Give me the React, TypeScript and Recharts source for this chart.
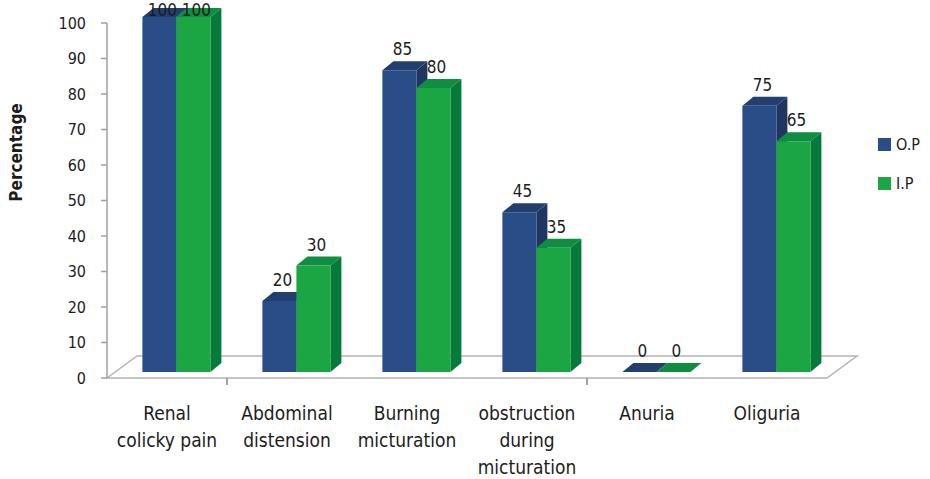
import { BarChart, Bar, XAxis, YAxis, Legend, LabelList, usePlotArea } from 'recharts';

// symptom categories ('\n' marks a line break in the axis label)
const categories = [
  'Renal\ncolicky pain',
  'Abdominal\ndistension',
  'Burning\nmicturation',
  'obstruction\nduring\nmicturation',
  'Anuria',
  'Oliguria',
];
const opValues = [100, 20, 85, 45, 0, 75];
const ipValues = [100, 30, 80, 35, 0, 65];
const yTicks = [0, 10, 20, 30, 40, 50, 60, 70, 80, 90, 100];
const seriesNames = ['O.P', 'I.P'];

const data = categories.map((name, i) => ({ name, op: opValues[i], ip: ipValues[i] }));

const FONT = "'Liberation Sans Narrow', 'DejaVu Sans Condensed', sans-serif";
const TEXT = '#1c1c1c';

// fake 3d depth of each bar, and how far the bars sit back from the floor edge
const DX = 11;
const DY = 9;
const SHIFT_X = 9;
const LIFT = 6;

// floor depth
const FLOOR_DX = 30;
const FLOOR_DY = 22;

const blue = { front: '#294d86', side: '#1f3660', top: '#223f6f' };
const green = { front: '#1ca643', side: '#047a3b', top: '#0f8d40' };

const makeBar3D = (c: { front: string; side: string; top: string }) => (props: any) => {
  const { x, y, width, height } = props;
  const x0 = x + SHIFT_X;
  const y0 = y - LIFT;
  const x1 = x0 + width;
  const y1 = y0 + height;
  return (
    <g>
      <polygon
        points={`${x1},${y0} ${x1 + DX},${y0 - DY} ${x1 + DX},${y1 - DY} ${x1},${y1}`}
        fill={c.side}
      />
      <polygon
        points={`${x0},${y0} ${x0 + DX},${y0 - DY} ${x1 + DX},${y0 - DY} ${x1},${y0}`}
        fill={c.top}
      />
      <rect x={x0} y={y0} width={width} height={height} fill={c.front} />
    </g>
  );
};

const ValueLabel = (props: any) => {
  const { x, y, width, value } = props;
  // keep the tallest labels inside the top edge
  const baseline = Math.max(y - LIFT - DY - 6, 16);
  return (
    <text
      x={x + SHIFT_X + width / 2 + 3}
      y={baseline}
      textAnchor="middle"
      fontFamily={FONT}
      fontSize={17}
      fill={TEXT}
    >
      {value}
    </text>
  );
};

const CategoryTick = ({ x, y, payload }: any) => {
  const lines = String(payload.value).split('\n');
  return (
    <text x={x} y={y + 40} textAnchor="middle" fontFamily={FONT} fontSize={19} fill={TEXT}>
      {lines.map((line, i) => (
        <tspan key={i} x={x} dy={i === 0 ? 0 : 27}>
          {line}
        </tspan>
      ))}
    </text>
  );
};

// floor plane under the bars
const Floor = () => {
  const plot = usePlotArea();
  if (!plot) return null;
  const { x, y, width, height } = plot;
  const b = y + height;
  const band = width / categories.length;
  const stroke = '#b4b4b4';
  return (
    <g>
      <polygon
        points={`${x},${b} ${x + FLOOR_DX},${b - FLOOR_DY} ${x + width + FLOOR_DX},${b - FLOOR_DY} ${x + width},${b}`}
        fill="#fff"
        stroke={stroke}
        strokeWidth={1.5}
      />
      {[1, 4].map((k) => (
        <line key={k} x1={x + band * k} y1={b} x2={x + band * k} y2={b + 7} stroke="#888" strokeWidth={1.5} />
      ))}
    </g>
  );
};

const LegendContent = ({ payload }: any) => {
  const items = [...(payload || [])].sort(
    (a: any, b: any) => seriesNames.indexOf(a.value) - seriesNames.indexOf(b.value)
  );
  return (
    <div style={{ fontFamily: FONT, fontSize: 16, color: TEXT }}>
      {items.map((entry: any) => (
        <div key={entry.value} style={{ display: 'flex', alignItems: 'center', height: 39 }}>
          <span
            style={{ display: 'inline-block', width: 13, height: 13, background: entry.color, marginRight: 5 }}
          />
          {entry.value}
        </div>
      ))}
    </div>
  );
};

export default function App() {
  return (
    <div style={{ position: 'absolute', left: 0, top: 0, width: 930, height: 479, background: '#fff' }}>
      <BarChart
        width={930}
        height={479}
        data={data}
        margin={{ top: 23, right: 103, bottom: 0, left: 47 }}
        barCategoryGap="22%"
        barGap={0}
      >
        <Floor />
        <XAxis
          dataKey="name"
          axisLine={false}
          tickLine={false}
          tickSize={0}
          height={101}
          interval={0}
          tick={<CategoryTick />}
        />
        <YAxis
          width={60}
          domain={[0, 100]}
          ticks={yTicks}
          interval={0}
          axisLine={{ stroke: '#a0a0a0', strokeWidth: 1.5 }}
          tickLine={{ stroke: '#a0a0a0', strokeWidth: 1.5 }}
          tickSize={6}
          tickMargin={15}
          tick={{ fontFamily: FONT, fontSize: 16, fill: TEXT }}
          label={{
            value: 'Percentage',
            angle: -90,
            position: 'insideLeft',
            dx: -36,
            dy: -48,
            style: { fontFamily: FONT, fontSize: 17, fontWeight: 'bold', fill: TEXT, textAnchor: 'middle' },
          }}
        />
        <Legend
          layout="vertical"
          align="center"
          verticalAlign="middle"
          wrapperStyle={{ left: 878, top: 125, width: 60 }}
          content={<LegendContent />}
        />
        <Bar dataKey="op" name={seriesNames[0]} fill={blue.front} shape={makeBar3D(blue)} isAnimationActive={false}>
          <LabelList dataKey="op" content={<ValueLabel />} />
        </Bar>
        <Bar dataKey="ip" name={seriesNames[1]} fill={green.front} shape={makeBar3D(green)} isAnimationActive={false}>
          <LabelList dataKey="ip" content={<ValueLabel />} />
        </Bar>
      </BarChart>
    </div>
  );
}
